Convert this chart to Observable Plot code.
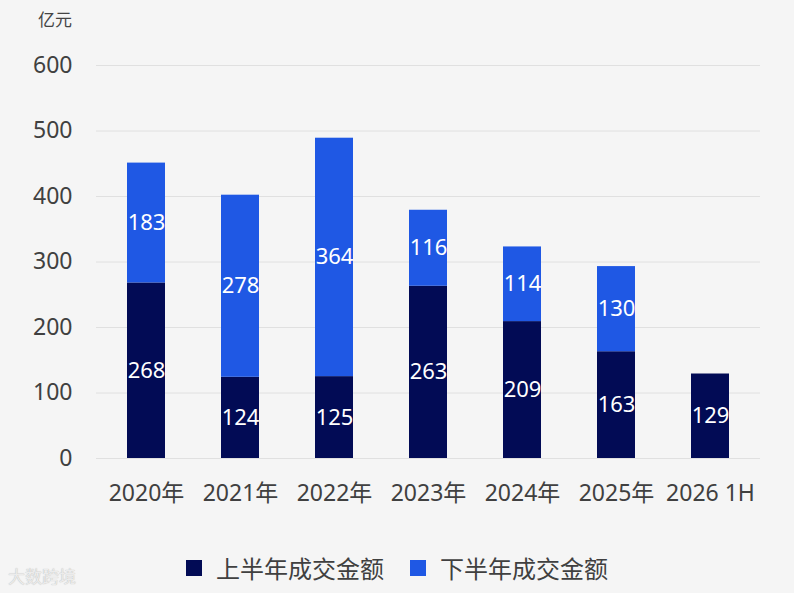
<!DOCTYPE html>
<html>
<head>
<meta charset="utf-8">
<script src="https://cdn.jsdelivr.net/npm/d3@7"></script>
<script src="https://cdn.jsdelivr.net/npm/@observablehq/plot@0.6"></script>
<style>
  html, body { margin: 0; padding: 0; background: #f5f5f5; }
  body { width: 794px; height: 593px; position: relative; overflow: hidden;
         font-family: "Noto Sans", "Noto Sans CJK SC", sans-serif; }
  #unit { position: absolute; left: 38px; top: 6px; font-size: 17px; color: #444; }
  #chart { position: absolute; left: 0; top: 0; }
  #legend { position: absolute; top: 550px; left: 0; width: 794px; display: flex; justify-content: center;
            gap: 26px; font-size: 24px; color: #404040; font-family: "Noto Sans CJK SC", sans-serif; }
  .item { display: flex; align-items: center; gap: 14px; }
  .sw { width: 16px; height: 16px; display: inline-block; }
  #wm { position: absolute; left: 8px; top: 563px; font-size: 17px; color: #ececec;
        font-family: "Noto Sans CJK SC", sans-serif; text-shadow: 0 0 1px #aaa; }
</style>
</head>
<body>
<div id="unit">亿元</div>
<div id="chart"></div>
<div id="legend"></div>
<div id="wm">大数跨境</div>
<script>
const categories = ["2020年", "2021年", "2022年", "2023年", "2024年", "2025年", "2026 1H"];
const firstHalf = [268, 124, 125, 263, 209, 163, 129];
const secondHalf = [183, 278, 364, 116, 114, 130, null];
const seriesNames = ["上半年成交金额", "下半年成交金额"];
const seriesColors = ["#020b55", "#1f58e4"];
const yTicks = [0, 100, 200, 300, 400, 500, 600];

const rows = [];
categories.forEach((c, i) => {
  rows.push({cat: c, series: seriesNames[0], value: firstHalf[i], lo: 0});
  if (secondHalf[i] != null) rows.push({cat: c, series: seriesNames[1], value: secondHalf[i], lo: firstHalf[i]});
});
rows.forEach(r => { r.hi = r.lo + r.value; r.mid = r.lo + r.value / 2; });

const chart = Plot.plot({
  width: 794,
  height: 530,
  marginTop: 65,
  marginBottom: 72,
  marginLeft: 96,
  marginRight: 34,
  style: {background: "transparent", fontFamily: "'Noto Sans', 'Noto Sans CJK SC', sans-serif"},
  x: {domain: categories, paddingInner: 0.6, paddingOuter: 0.3, label: null},
  y: {domain: [0, 600], ticks: yTicks, label: null},
  color: {domain: seriesNames, range: seriesColors},
  marks: [
    Plot.gridY(yTicks, {stroke: "#e0e0e0", strokeOpacity: 1, strokeWidth: 1}),
    Plot.axisY(yTicks, {tickSize: 0, tickPadding: 24, fontSize: 23, fill: "#404040", label: null}),
    Plot.axisX({tickSize: 0, tickPadding: 26, fontSize: 23, fill: "#404040", label: null}),
    Plot.rectY(rows, {x: "cat", y1: "lo", y2: "hi", fill: "series"}),
    Plot.text(rows, {x: "cat", y: "mid", text: d => String(d.value), fill: "white", fontSize: 22})
  ]
});
document.getElementById("chart").appendChild(chart);

const legend = document.getElementById("legend");
seriesNames.forEach((n, i) => {
  const it = document.createElement("div");
  it.className = "item";
  it.innerHTML = `<span class="sw" style="background:${seriesColors[i]}"></span><span>${n}</span>`;
  legend.appendChild(it);
});
</script>
</body>
</html>
